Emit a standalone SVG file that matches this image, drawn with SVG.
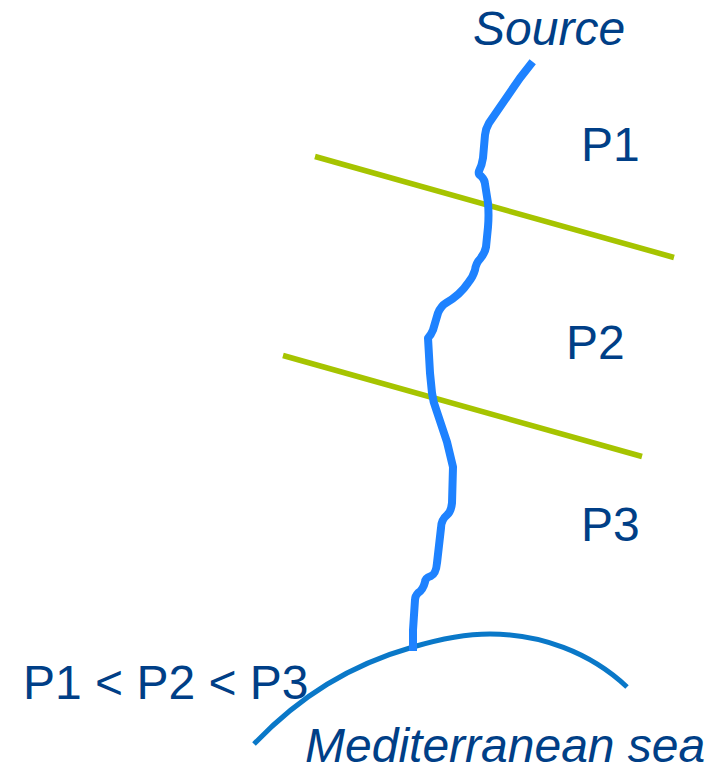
<svg xmlns="http://www.w3.org/2000/svg" width="718" height="766" viewBox="0 0 718 766">
<style>
text{font-family:"Liberation Sans",Arial,sans-serif;font-size:48px;fill:#003f87}
.i{font-style:italic}
.sec{fill:none;stroke:#a6c400;stroke-width:5.500}
.river{fill:none;stroke:#1e82ff;stroke-width:8;stroke-linejoin:round}
.sea{fill:none;stroke:#0a78c8;stroke-width:5}
</style>
<rect width="718" height="766" fill="#fff"/>
<g id="connectors">
<path id="sea" class="sea" d="M254 744C300 696 350 665 413 647C440 639 465 634 490 634C540 634 590 652 627 687"/>
<path id="section-1" class="sec" d="M315 156.500L674 257.500"/>
<path id="section-2" class="sec" d="M283 355.500L642 456.500"/>
<path id="river" class="river" d="M532.7 61.7L520 78L489 123Q485.500 129 485 135L483 158Q482 165 479 171Q478 174 481 176Q485 180 485 184L488 203Q489 215 488 227L486 247Q485 253 480 259Q476 263 475 270Q473 277 468 283Q460 295 446 303Q441 306 438 313L433 330Q431 335 428 338L430 373L432 393Q433 402 437 412L447 442L453 467L452 503Q451 512 447 515Q441 520 441 528L437 563Q436 574 431 576Q425 578 425 582Q423 590 418 593Q415 596 415 600L413 630V651"/>
</g>
<g id="source"><text class="i" x="473" y="45">Source</text></g>
<g id="p1"><text x="581" y="161">P1</text></g>
<g id="p2"><text x="566" y="359">P2</text></g>
<g id="p3"><text x="581" y="541">P3</text></g>
<g id="relation"><text x="23" y="699">P1 &lt; P2 &lt; P3</text></g>
<g id="mediterranean"><text class="i" x="305" y="762">Mediterranean sea</text></g>
</svg>
